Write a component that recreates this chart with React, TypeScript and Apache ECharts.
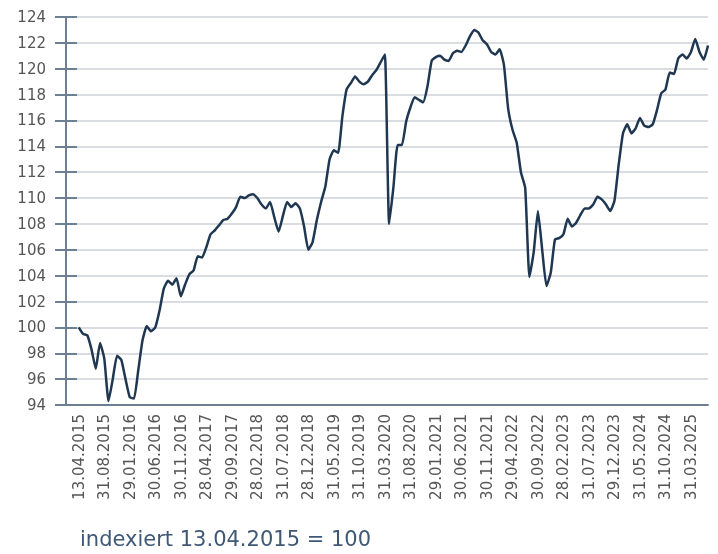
import React, { useEffect, useRef } from "react";
import * as echarts from "echarts";

const tickLabels: string[] = [
  "13.04.2015", "31.08.2015", "29.01.2016", "30.06.2016", "30.11.2016",
  "28.04.2017", "29.09.2017", "28.02.2018", "31.07.2018", "28.12.2018",
  "31.05.2019", "31.10.2019", "31.03.2020", "31.08.2020", "29.01.2021",
  "30.06.2021", "30.11.2021", "29.04.2022", "30.09.2022", "28.02.2023",
  "31.07.2023", "29.12.2023", "31.05.2024", "31.10.2024", "31.03.2025",
];

// number of leading empty slots and steps between two labelled dates
const LEAD = 3;
const STEP = 6;

// index values (13.04.2015 = 100), one value per step
const indexValues: number[] = [
  100.0, 99.5, 99.4, 98.3, 96.8, 98.8, 97.6, 94.3, 96.0, 97.8,
  97.5, 96.0, 94.6, 94.5, 96.7, 99.0, 100.1, 99.7, 100.0, 101.3,
  103.0, 103.6, 103.3, 103.8, 102.4, 103.3, 104.1, 104.4, 105.5, 105.4,
  106.2, 107.2, 107.5, 107.9, 108.3, 108.4, 108.8, 109.3, 110.1, 110.0,
  110.2, 110.3, 110.0, 109.5, 109.2, 109.7, 108.5, 107.4, 108.6, 109.7,
  109.3, 109.6, 109.2, 107.8, 106.0, 106.6, 108.3, 109.7, 110.9, 113.0,
  113.7, 113.5, 116.3, 118.4, 118.9, 119.4, 119.0, 118.8, 119.0, 119.5,
  119.9, 120.5, 121.1, 108.0, 110.8, 114.1, 114.1, 115.9, 117.0, 117.8,
  117.6, 117.4, 118.6, 120.6, 120.9, 121.0, 120.7, 120.6, 121.2, 121.4,
  121.3, 121.8, 122.5, 123.0, 122.8, 122.2, 121.9, 121.3, 121.1, 121.5,
  120.3, 116.9, 115.3, 114.3, 112.0, 110.8, 103.9, 105.8, 109.0, 106.0,
  103.2, 104.2, 106.8, 106.9, 107.2, 108.4, 107.8, 108.1, 108.7, 109.2,
  109.2, 109.5, 110.1, 109.9, 109.5, 109.0, 109.8, 112.6, 115.0, 115.7,
  115.0, 115.4, 116.2, 115.6, 115.5, 115.7, 116.8, 118.1, 118.4, 119.7,
  119.6, 120.8, 121.1, 120.8, 121.3, 122.3, 121.3, 120.7, 121.8,
];

const yTicks = { min: 94, max: 124, interval: 2 };
const footnote = "indexiert 13.04.2015 = 100";

export default function App() {
  const ref = useRef<HTMLDivElement>(null);

  useEffect(() => {
    if (!ref.current) return;
    const chart = echarts.init(ref.current, undefined, { renderer: "svg" });

    const total = LEAD + indexValues.length;
    const categories: string[] = [];
    const data: (number | null)[] = [];
    for (let j = 0; j < total; j++) {
      const k = j - LEAD;
      categories.push(k >= 0 && k % STEP === 0 ? tickLabels[k / STEP] ?? "" : "");
      data.push(k >= 0 ? indexValues[k] : null);
    }

    const axisColor = "#6d8093";
    const font = "DejaVu Sans";

    chart.setOption({
      animation: false,
      grid: { left: 66, right: 10, top: 17, bottom: 149, containLabel: false },
      xAxis: {
        type: "category",
        data: categories,
        boundaryGap: false,
        axisLine: { show: true, lineStyle: { color: axisColor, width: 2 } },
        axisTick: { show: false },
        splitLine: { show: false },
        axisLabel: {
          rotate: 90,
          margin: 9,
          color: "#555555",
          fontFamily: font,
          fontSize: 15,
          interval: (idx: number) => idx >= LEAD && (idx - LEAD) % STEP === 0,
        },
      },
      yAxis: [
        {
          type: "value",
          min: yTicks.min,
          max: yTicks.max,
          interval: yTicks.interval,
          position: "left",
          axisLine: { show: true, lineStyle: { color: axisColor, width: 2 } },
          axisTick: { show: true, length: 11, lineStyle: { color: axisColor, width: 2 } },
          axisLabel: { color: "#555555", fontFamily: font, fontSize: 15, margin: 20 },
          splitLine: { show: true, lineStyle: { color: "#d9dde2", width: 2 } },
        },
        {
          type: "value",
          min: yTicks.min,
          max: yTicks.max,
          interval: yTicks.interval,
          position: "left",
          axisLine: { show: false },
          axisTick: { show: true, inside: true, length: 11, lineStyle: { color: axisColor, width: 2 } },
          axisLabel: { show: false },
          splitLine: { show: false },
        },
      ],
      series: [
        {
          type: "line",
          data,
          yAxisIndex: 0,
          showSymbol: false,
          smooth: 0.15,
          connectNulls: false,
          lineStyle: { color: "#1f3751", width: 2.5 },
          z: 5,
        },
      ],
      graphic: [
        {
          type: "text",
          left: 80,
          top: 528,
          style: {
            text: footnote,
            fill: "#3e5875",
            fontFamily: "DejaVu Sans",
            fontSize: 21,
          },
        },
      ],
    });

    return () => chart.dispose();
  }, []);

  return (
    <div
      ref={ref}
      style={{ position: "fixed", left: 0, top: 0, width: 718, height: 554 }}
    />
  );
}
